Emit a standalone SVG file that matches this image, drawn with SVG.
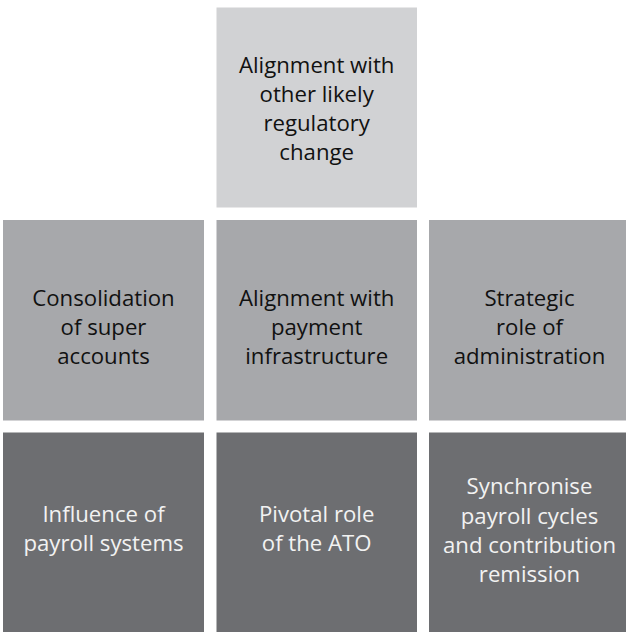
<svg xmlns="http://www.w3.org/2000/svg" width="626" height="632" viewBox="0 0 626 632">
<style>
.l{fill:#d1d2d4}.m{fill:#a7a8ab}.d{fill:#6d6e71}
text{font-family:"Open Sans","Liberation Sans",sans-serif;font-size:22.2px;text-anchor:middle}
.dk{fill:#111}.wt{fill:#f2f2f2}
</style>
<rect width="626" height="632" fill="#fff"/>
<g id="top"><rect class="l" x="216.5" y="7.5" width="200.5" height="200"/>
<text class="dk" x="316.7" y="73">Alignment with</text><text class="dk" x="316.7" y="102">other likely</text><text class="dk" x="316.7" y="131">regulatory</text><text class="dk" x="316.7" y="160">change</text></g>
<g id="mid1"><rect class="m" x="3" y="220" width="201" height="200.5"/>
<text class="dk" x="103.5" y="306">Consolidation</text><text class="dk" x="103.5" y="335">of super</text><text class="dk" x="103.5" y="364">accounts</text></g>
<g id="mid2"><rect class="m" x="216.5" y="220" width="200.5" height="200.5"/>
<text class="dk" x="316.7" y="306">Alignment with</text><text class="dk" x="316.7" y="335">payment</text><text class="dk" x="316.7" y="364">infrastructure</text></g>
<g id="mid3"><rect class="m" x="429" y="220" width="200" height="200.5"/>
<text class="dk" x="529.5" y="306">Strategic</text><text class="dk" x="529.5" y="335">role of</text><text class="dk" x="529.5" y="364">administration</text></g>
<g id="bot1"><rect class="d" x="3" y="432.5" width="201" height="200"/>
<text class="wt" x="103.5" y="522">Influence of</text><text class="wt" x="103.5" y="551">payroll systems</text></g>
<g id="bot2"><rect class="d" x="216.5" y="432.5" width="200.5" height="200"/>
<text class="wt" x="316.7" y="522">Pivotal role</text><text class="wt" x="316.7" y="551">of the ATO</text></g>
<g id="bot3"><rect class="d" x="429" y="432.5" width="200" height="200"/>
<text class="wt" x="529.5" y="494">Synchronise</text><text class="wt" x="529.5" y="524">payroll cycles</text><text class="wt" x="529.5" y="553">and contribution</text><text class="wt" x="529.5" y="582">remission</text></g>
<g id="connectors"/>
</svg>
